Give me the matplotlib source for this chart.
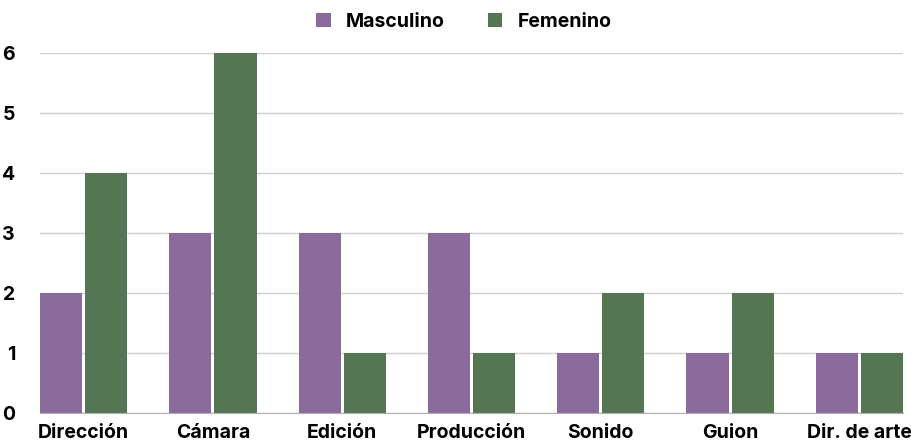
import numpy as np
import matplotlib
matplotlib.use('Agg')
import matplotlib.pyplot as plt

categories = ['Dirección', 'Cámara', 'Edición', 'Producción', 'Sonido', 'Guion', 'Dir. de arte']
masculino = [2, 3, 3, 3, 1, 1, 1]
femenino = [4, 6, 1, 1, 2, 2, 1]

purple = '#8a6b9b'
green = '#557652'

plt.rcParams['font.family'] = ['Inter', 'DejaVu Sans']

fig = plt.figure(figsize=(9.12, 4.43), dpi=100)
ax = fig.add_axes([40 / 912, 30 / 443, 863 / 912, 360 / 443])

x = np.arange(len(categories))
w = 42 / 129
gap = 3 / 129
ax.bar(x + w / 2, masculino, width=w, color=purple, label='Masculino', zorder=3)
ax.bar(x + w + gap + w / 2, femenino, width=w, color=green, label='Femenino', zorder=3)

ax.set_xlim(0, len(categories) - 1 + 2 * w + gap)
ax.set_ylim(0, 6)
ax.set_xticks(x + w + gap / 2)
ax.set_xticklabels(categories, fontsize=14, fontweight='bold')
ax.set_yticks(range(7))
ax.set_yticklabels([str(i) for i in range(7)], fontsize=14, fontweight='bold')
ax.tick_params(length=0)
ax.tick_params(axis='x', pad=8)
ax.tick_params(axis='y', pad=18)

ax.grid(axis='y', color='#d0d0d0', linewidth=1, zorder=0)
for s in ['top', 'right', 'left']:
    ax.spines[s].set_visible(False)
ax.spines['bottom'].set_color('#b0b0b0')
ax.spines['bottom'].set_zorder(4)

fig.legend(loc='center', bbox_to_anchor=(0.5 + 8 / 912, 1 - 22 / 443), ncol=2, frameon=False,
           prop={'size': 14, 'weight': 'bold'}, handlelength=0.75, handleheight=0.75,
           columnspacing=2.2, handletextpad=0.8)

fig.savefig('out.png', dpi=100)
